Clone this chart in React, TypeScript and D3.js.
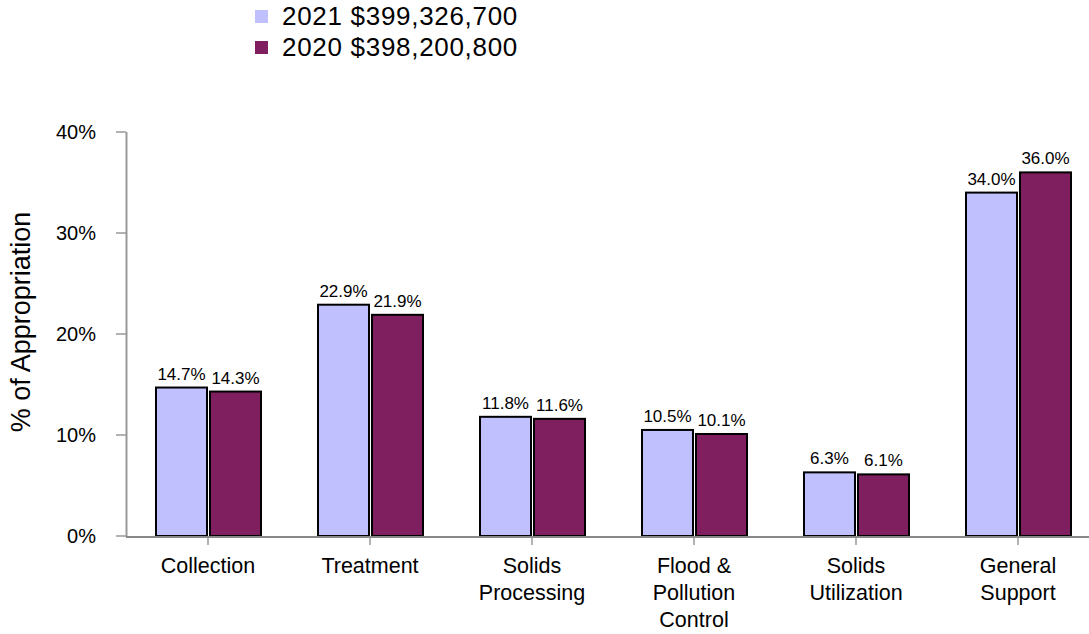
import React from 'react';
import * as d3 from 'd3';

const categories = [
  ['Collection'],
  ['Treatment'],
  ['Solids', 'Processing'],
  ['Flood &', 'Pollution', 'Control'],
  ['Solids', 'Utilization'],
  ['General', 'Support']
];
const values2021 = [14.7, 22.9, 11.8, 10.5, 6.3, 34.0];
const values2020 = [14.3, 21.9, 11.6, 10.1, 6.1, 36.0];
const yTicks = [0, 10, 20, 30, 40];
const legendLabels = ['2021 $399,326,700', '2020 $398,200,800'];
const colors = ['#C0C0FF', '#7F1F5F'];

const font = 'Liberation Sans, Arial, sans-serif';

export default function App() {
  const width = 1089;
  const height = 634;

  const keys = categories.map(c => c.join(' '));

  const xScale = d3
    .scaleBand()
    .domain(keys)
    .range([127, 1099])
    .padding(0);

  const yScale = d3
    .scaleLinear()
    .domain([0, 40])
    .range([536, 132]);

  const series = [values2021, values2020];
  const barWidth = 51;

  return (
    <svg
      width={width}
      height={height}
      style={{ position: 'absolute', left: 0, top: 0, fontFamily: font }}
    >
      {/* legend */}
      {legendLabels.map((label, i) => (
        <g key={label} transform={`translate(255, ${10 + i * 31})`}>
          <rect width={13} height={13} fill={colors[i]} />
          <text x={27} y={15} fontSize={26} letterSpacing={0.7} fill="#000">
            {label}
          </text>
        </g>
      ))}

      {/* y axis */}
      <line x1={126.5} x2={126.5} y1={132} y2={537} stroke="#999" strokeWidth={2} />
      {yTicks.map(t => (
        <g key={t} transform={`translate(0, ${yScale(t)})`}>
          <line x1={116} x2={126} stroke="#999" strokeWidth={1.5} />
          <text x={96} y={7} textAnchor="end" fontSize={20} fill="#000">
            {t}%
          </text>
        </g>
      ))}
      <text
        transform="translate(30, 322) rotate(-90)"
        textAnchor="middle"
        fontSize={27}
        fill="#000"
      >
        % of Appropriation
      </text>

      {/* bars */}
      {keys.map((key, ci) => {
        const center = xScale(key)! + xScale.bandwidth() / 2;
        return (
          <g key={key}>
            {series.map((vals, si) => {
              const x = si === 0 ? center - barWidth - 1 : center + 2;
              const y = yScale(vals[ci]);
              return (
                <g key={si}>
                  <rect
                    x={x}
                    y={y}
                    width={barWidth}
                    height={yScale(0) - y}
                    fill={colors[si]}
                    stroke="#000"
                    strokeWidth={2}
                  />
                  <text
                    x={x + barWidth / 2}
                    y={y - 8}
                    textAnchor="middle"
                    fontSize={17}
                    fill="#000"
                  >
                    {vals[ci].toFixed(1)}%
                  </text>
                </g>
              );
            })}
          </g>
        );
      })}

      {/* x axis */}
      <line x1={126} x2={1089} y1={537} y2={537} stroke="#888" strokeWidth={2} />
      {keys.map((key, ci) => {
        const center = xScale(key)! + xScale.bandwidth() / 2;
        return (
          <g key={key} transform={`translate(${center}, 537)`}>
            <line y1={0} y2={8} stroke="#999" strokeWidth={1.5} />
            {categories[ci].map((line, li) => (
              <text
                key={li}
                y={36 + li * 27}
                textAnchor="middle"
                fontSize={21.5}
                fill="#000"
              >
                {line}
              </text>
            ))}
          </g>
        );
      })}
    </svg>
  );
}
